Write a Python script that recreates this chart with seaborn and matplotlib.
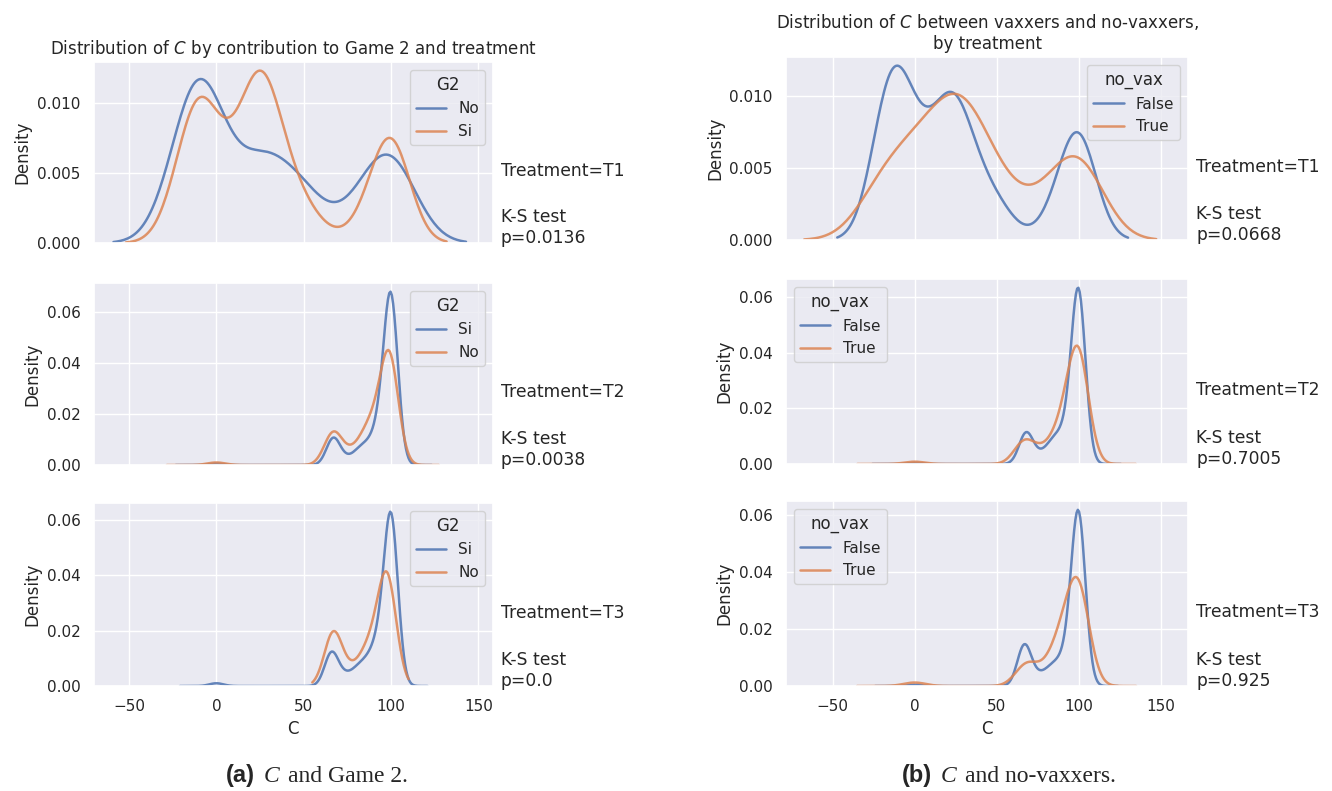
import numpy as np
import matplotlib
matplotlib.use('Agg')
import matplotlib.pyplot as plt
from matplotlib.ticker import MultipleLocator
from matplotlib.offsetbox import TextArea, HPacker, AnnotationBbox
import seaborn as sns

treatments = ['T1', 'T2', 'T3']

# (a) C by contribution to Game 2 -- hue levels in order of appearance, per treatment
g2_levels = [['No', 'Si'], ['Si', 'No'], ['Si', 'No']]
g2_ks = ['0.0136', '0.0038', '0.0']
# C values (weighted) and kernel bandwidth for the first hue level
g2_c1 = [[-16, -9, 25, 48, 83, 100],
         [0, 67, 75, 82, 88, 94, 100],
         [0, 66, 74, 81, 87, 93, 100]]
g2_w1 = [[0.07, 0.36, 0.18, 0.12, 0.06, 0.2],
         [0.006, 0.107, 0.02, 0.05, 0.06, 0.12, 0.65],
         [0.01, 0.12, 0.03, 0.05, 0.065, 0.12, 0.6]]
g2_bw1 = [15, 4.0, 4.0]
# ... and for the second hue level
g2_c2 = [[-20, -9, 8, 25, 40, 55, 85, 100],
         [0, 67, 77, 84, 90, 99],
         [67, 77, 85, 91, 98]]
g2_w2 = [[0.07, 0.22, 0.1, 0.28, 0.09, 0.035, 0.03, 0.2],
         [0.013, 0.165, 0.04, 0.08, 0.15, 0.55],
         [0.25, 0.05, 0.1, 0.12, 0.48]]
g2_bw2 = [11, 5.2, 5.2]

# (b) C for vaxxers / no-vaxxers
vax_levels = [['False', 'True']] * 3
vax_ks = ['0.0668', '0.7005', '0.925']
vax_c1 = [[-17, -6, 10, 24, 38, 52, 86, 100],
          [0, 68, 76, 83, 89, 95, 100],
          [0, 67, 76, 83, 89, 95, 100]]
vax_w1 = [[0.2, 0.16, 0.1, 0.2, 0.07, 0.045, 0.035, 0.19],
          [0.005, 0.125, 0.025, 0.06, 0.08, 0.08, 0.67],
          [0.005, 0.155, 0.03, 0.05, 0.06, 0.08, 0.62]]
vax_bw1 = [11, 4.3, 4.3]
vax_c2 = [[-20, 0, 20, 35, 55, 80, 100],
          [0, 67, 78, 87, 93, 100],
          [0, 68, 77, 86, 92, 100]]
vax_w2 = [[0.12, 0.15, 0.2, 0.19, 0.08, 0.06, 0.2],
          [0.013, 0.125, 0.05, 0.1, 0.12, 0.58],
          [0.02, 0.115, 0.035, 0.12, 0.15, 0.52]]
vax_bw2 = [16, 6.3, 6.8]

sns.set_theme(style='darkgrid')
plt.rcParams['font.family'] = ['DejaVu Sans']
pal = sns.color_palette('deep')

fig = plt.figure(figsize=(13.32, 7.91), dpi=100)


def kde(ax, c, w, bw, color, label):
    # bandwidth given in C units -> factor relative to the weighted std
    sd = np.sqrt(np.cov(c, aweights=w))
    sns.kdeplot(x=c, weights=w, bw_method=bw / sd, ax=ax, color=color,
                label=label, linewidth=1.8, alpha=0.85)


def panel(rects, c1, w1, bw1, c2, w2, bw2, levels, ks, hue, locs, xlim, title):
    for i, rect in enumerate(rects):
        ax = fig.add_axes(rect)
        kde(ax, c1[i], w1[i], bw1[i], pal[0], levels[i][0])
        kde(ax, c2[i], w2[i], bw2[i], pal[1], levels[i][1])
        ax.set_xlim(xlim)
        ax.yaxis.set_major_locator(MultipleLocator(0.005 if i == 0 else 0.02))
        ax.set_ylabel('Density')
        ax.legend(title=hue, loc=locs[i])
        ax.text(1.02, 0.4, f'Treatment={treatments[i]}', transform=ax.transAxes,
                va='center', ha='left', fontsize=12.3)
        ax.text(1.02, -0.02, f'K-S test\np={ks[i]}', transform=ax.transAxes,
                va='bottom', ha='left', fontsize=12.3)
        if i == 0:
            ax.set_title(title)
        if i < 2:
            ax.set_xlabel('')
            ax.tick_params(labelbottom=False)
        else:
            ax.set_xlabel('C')


rects_a = [[0.0703, 0.6928, 0.2998, 0.2288],
           [0.0703, 0.4121, 0.2998, 0.2301],
           [0.0703, 0.1327, 0.2998, 0.2314]]
rects_b = [[0.5901, 0.6966, 0.3018, 0.2314],
           [0.5901, 0.4134, 0.3018, 0.2339],
           [0.5901, 0.1327, 0.3018, 0.2339]]

panel(rects_a, g2_c1, g2_w1, g2_bw1, g2_c2, g2_w2, g2_bw2, g2_levels, g2_ks,
      'G2', ['upper right'] * 3, (-70.3, 158.4),
      'Distribution of $C$ by contribution to Game 2 and treatment')
panel(rects_b, vax_c1, vax_w1, vax_bw1, vax_c2, vax_w2, vax_bw2, vax_levels, vax_ks,
      'no_vax', ['upper right', 'upper left', 'upper left'], (-78.4, 166.7),
      'Distribution of $C$ between vaxxers and no-vaxxers,\nby treatment')


def caption(x, tag, rest):
    parts = [TextArea(tag, textprops=dict(family='Liberation Sans', weight='bold', size=17)),
             TextArea('C', textprops=dict(family='Liberation Serif', style='italic', size=17)),
             TextArea(rest, textprops=dict(family='Liberation Serif', size=17))]
    box = HPacker(children=parts, align='baseline', pad=0, sep=6)
    fig.add_artist(AnnotationBbox(box, (x, 0.02), xycoords='figure fraction',
                                  frameon=False, box_alignment=(0.5, 0.5)))


caption(0.238, '(a)', 'and Game 2.')
caption(0.7575, '(b)', 'and no-vaxxers.')

fig.savefig('out.png', dpi=100, facecolor='white')
